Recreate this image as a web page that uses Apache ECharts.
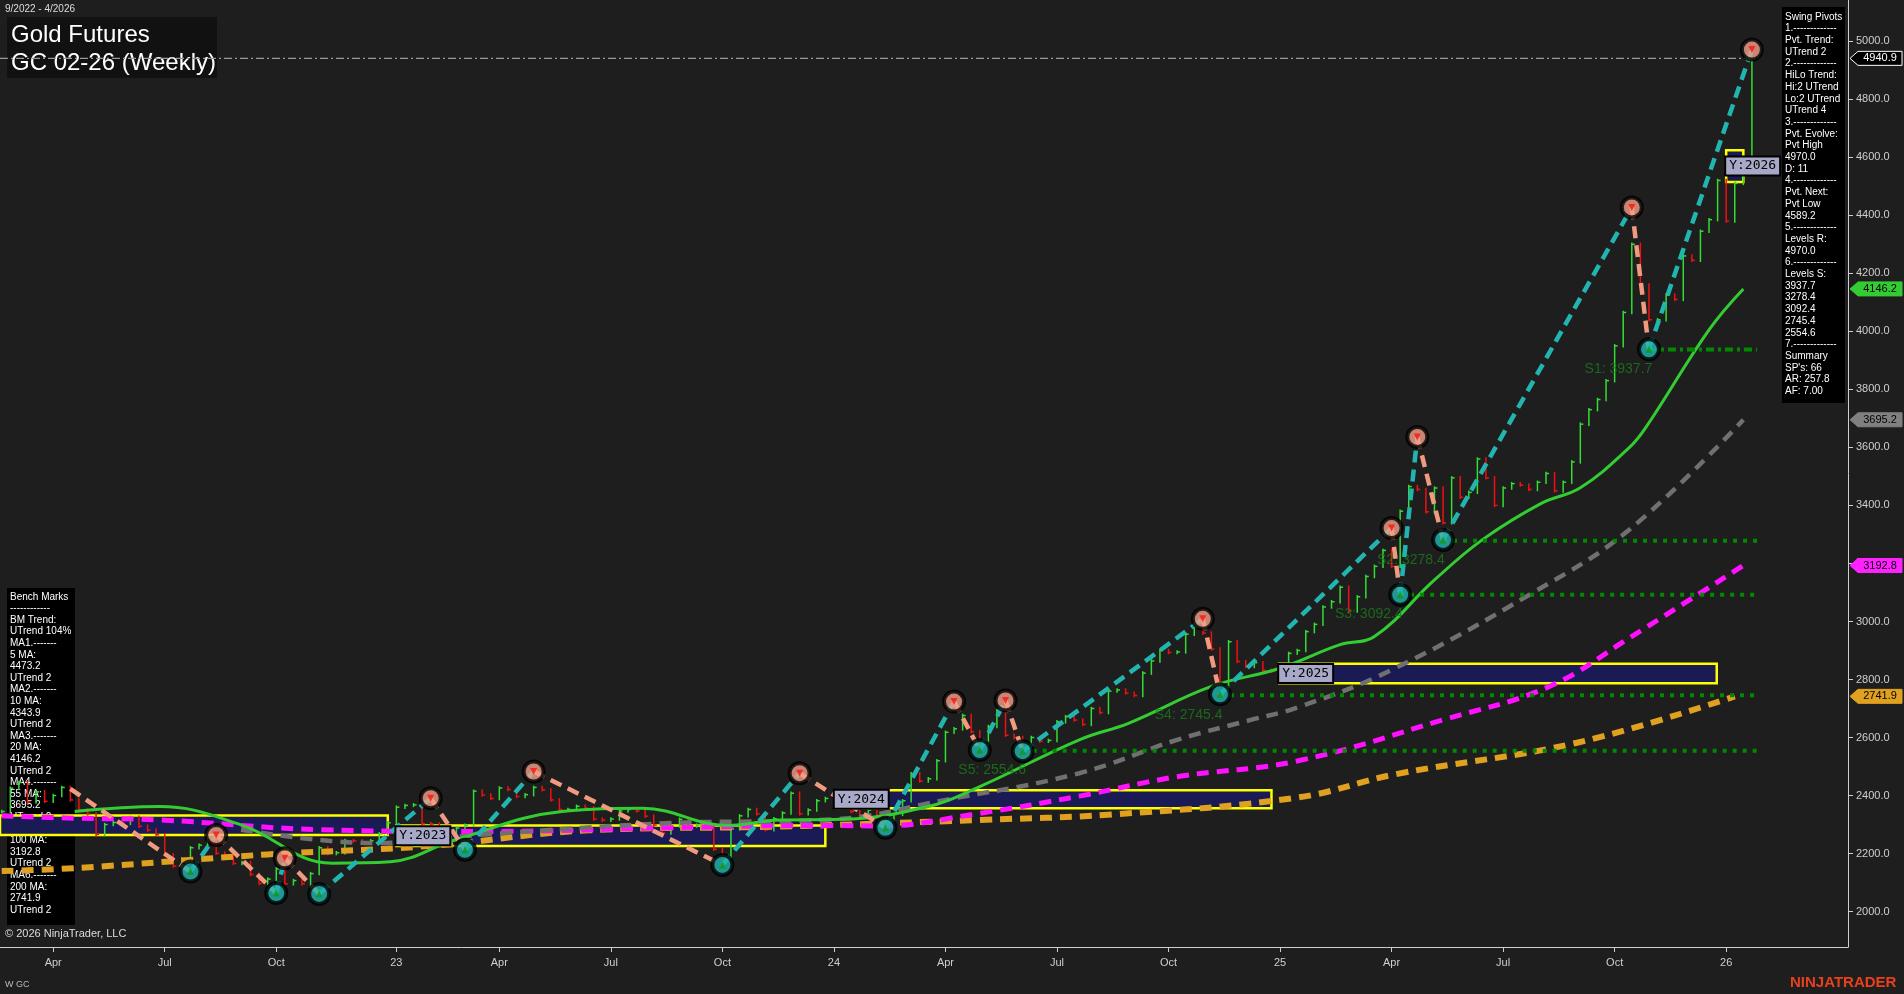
<!DOCTYPE html>
<html><head><meta charset="utf-8">
<script src="https://cdn.jsdelivr.net/npm/echarts@6/dist/echarts.min.js"></script>
<style>html,body{margin:0;padding:0;background:#1e1e1e}#c{width:1904px;height:994px}</style>
</head><body><div id="c"></div>
<script>
// weekly closes, index -6 .. 198 (index 0 = first week of Apr 2022)
const firstIdx = -6;
const closes = [2345,2425,2445,2378,2413,2380,
2400,2428,2385,2350,2337,2266,2300,2307,2304,2325,
2294,2281,2265,2196,2157,2181,2220,2229,2256,2201,
2191,2166,2169,2128,2097,2112,2147,2096,2107,2096,
2131,2220,2200,2203,2245,2244,2240,2244,2268,2306,
2360,2366,2368,2303,2302,2277,2245,2288,2298,2415,
2402,2390,2426,2421,2397,2403,2428,2420,2385,2352,
2352,2363,2357,2319,2315,2319,2347,2352,2347,2329,
2298,2271,2295,2318,2295,2298,2297,2215,2190,2285,
2330,2352,2337,2282,2320,2340,2408,2337,2350,2382,
2390,2370,2368,2345,2332,2350,2332,2315,2335,2382,
2475,2450,2458,2520,2618,2630,2676,2620,2580,2638,
2692,2608,2600,2563,2600,2587,2590,2654,2672,2660,
2645,2700,2686,2760,2764,2753,2745,2822,2864,2900,
2893,2895,2956,2980,2960,2905,2780,2930,2862,2845,
2858,2832,2828,2846,2890,2900,2965,2990,3050,3068,
3118,3036,3085,3155,3190,3245,3190,3380,3465,3455,
3378,3460,3340,3495,3428,3445,3560,3495,3400,3460,
3475,3470,3455,3480,3510,3450,3480,3550,3680,3730,
3765,3830,3950,4065,4300,4160,4040,4040,4125,4110,
4260,4245,4345,4385,4520,4380,4510,4600,4941];

// swing pivots [weekIndex, price]
const pivotIdx = [2,16,19,26,27,31,44,48,56,78,87,97,105,108,111,113,134,136,156,157,159,162,184,186,198];
const pivotVal = [2423,2138,2264,2064,2184,2061,2391,2213,2483,2161,2477,2289,2724,2557,2728,2553,3009,2749,3322,3092,3636,3281,4427,3938,4971];

// moving averages knots [weekIndex, value]
const ma20 = [[2.5,2345],[12.4,2362],[21.9,2299],[32.5,2167],[39.3,2172],[46.8,2247],[59.3,2345],[68.7,2356],[78.6,2297],[84.7,2316],[91.7,2318],[102,2362],[108,2431],[119.6,2592],[125.4,2650],[135,2776],[142.9,2838],[150,2920],[154,2948],[161,3143],[166.6,3282],[173.5,3408],[178,3461],[183.7,3599],[185.6,3667],[193,4005],[197,4146]];
const ma55 = [[21.9,2282],[37.5,2236],[49.9,2265],[71.9,2305],[91,2318],[104,2385],[119.6,2477],[131,2592],[139.5,2660],[145,2703],[156,2833],[172.4,3098],[183.7,3316],[197,3695]];
const ma100 = [[-6,2330],[2.5,2322],[12.4,2316],[31.3,2282],[49.9,2276],[71.9,2289],[91,2297],[96.3,2295],[108,2339],[119.6,2398],[131,2465],[145,2519],[162,2661],[174.4,2776],[183.7,2943],[197,3193]];
const ma200 = [[-6,2140],[3.1,2151],[25,2197],[43.7,2226],[62.4,2280],[84.6,2293],[108,2316],[123.5,2335],[145,2393],[156.4,2473],[177.6,2582],[196,2742]];

// support levels
const supNames = ['S5: 2554.6','S4: 2745.4','S3: 3092.4','S2: 3278.4','S1: 3937.7'];
const supVal = [2554.6,2745.4,3092.4,3278.4,3937.7];
const supStart = [113,136,157,162,186];
const supLabelPos = [[105.5,2486],[128.4,2676],[149.4,3025],[154.3,3210],[178.5,3871]];

// yearly range boxes [x0,x1,low,high,label]
const boxes = [[-6.2,39,2264,2331,''],[40,90,2226,2297,'Y:2023'],[91.1,142,2356,2418,'Y:2024'],[142.9,193.9,2787,2854,'Y:2025'],[195,197,4515,4624,'Y:2026']];

const xTickIdx = [0,13,26,40,52,65,78,91,104,117,130,143,156,169,182,195];
const xTickLab = ['Apr','Jul','Oct','23','Apr','Jul','Oct','24','Apr','Jul','Oct','25','Apr','Jul','Oct','26'];
const yTicks = [2000,2200,2400,2600,2800,3000,3200,3400,3600,3800,4000,4200,4400,4600,4800,5000];
const lastPrice = 4940.9;
const badges = [[4940.9,'#000','#fff','#fff'],[4146.2,'#33cc33','#000','#33cc33'],[3695.2,'#808080','#000','#808080'],[3192.8,'#ff22ff','#000','#ff22ff'],[2741.9,'#e0a020','#000','#e0a020']];

const swingText = ['Swing Pivots','1.-------------','Pvt. Trend:','UTrend 2','2.-------------','HiLo Trend:','Hi:2 UTrend','Lo:2 UTrend','UTrend 4','3.-------------','Pvt. Evolve:','Pvt High','4970.0','D: 11','4.-------------','Pvt. Next:','Pvt Low','4589.2','5.-------------','Levels R:','4970.0','6.-------------','Levels S:','3937.7','3278.4','3092.4','2745.4','2554.6','7.-------------','Summary',"SP's: 66",'AR: 257.8','AF: 7.00'];
const benchText = ['Bench Marks','------------','BM Trend:','UTrend 104%','MA1.-------','5 MA:','4473.2','UTrend 2','MA2.-------','10 MA:','4343.9','UTrend 2','MA3.-------','20 MA:','4146.2','UTrend 2','MA4.-------','55 MA:','3695.2','UTrend 2','MA5.-------','100 MA:','3192.8','UTrend 2','MA6.-------','200 MA:','2741.9','UTrend 2'];

const barData = closes.map((c,i)=>[firstIdx+i, i>0?closes[i-1]:c, c]);
const chart = echarts.init(document.getElementById('c'));
const series = [];

series.push({type:'custom',z:1,data:boxes.map(b=>b.slice(0,4)),renderItem:(p,api)=>{
  const a=api.coord([api.value(0),api.value(3)]), b=api.coord([api.value(1),api.value(2)]);
  return {type:'rect',shape:{x:a[0],y:a[1],width:b[0]-a[0],height:b[1]-a[1]},style:{fill:'#1a1a55',stroke:'#ffff00',lineWidth:2.5}};
}});
series.push({type:'custom',z:2,data:barData,renderItem:(p,api)=>{
  const x=api.value(0),o=api.value(1),c=api.value(2);
  const lo=Math.min(o,c)-6, hi=Math.max(o,c)+6;
  const a=api.coord([x,hi]), b=api.coord([x,lo]), cc=api.coord([x,c]);
  const col=c>=o?'#33dd33':'#ee1111';
  return {type:'group',children:[
    {type:'line',shape:{x1:a[0],y1:a[1],x2:b[0],y2:b[1]},style:{stroke:col,lineWidth:1.5}},
    {type:'line',shape:{x1:cc[0],y1:cc[1],x2:cc[0]+3,y2:cc[1]},style:{stroke:col,lineWidth:1.5}}]};
}});
const maDefs=[[ma200,'#e0a020',6],[ma100,'#ff11ff',5],[ma55,'#707070',4.5],[ma20,'#33cc33',3]];
maDefs.forEach(([d,col,w],k)=>series.push({type:'line',z:3,data:d,smooth:0.4,symbol:'none',silent:true,
  lineStyle:{color:col,width:w,type:k===3?'solid':[12,8]}}));
supVal.forEach((v,i)=>series.push({type:'line',z:4,symbol:'none',data:[[supStart[i],v],[198.6,v]],
  lineStyle:{color:'#008a00',width:4,type:i===4?[8,4,3,4]:[4,6]}}));
series.push({type:'line',z:4,symbol:'none',data:[[-6.2,lastPrice],[198,lastPrice]],lineStyle:{color:'#999',width:1.2,type:[8,3,2,3]}});
series.push({type:'scatter',z:4,symbolSize:0,data:supLabelPos.map((p,i)=>({value:p,label:{show:true,formatter:supNames[i],position:'right',distance:0,color:'#1b7a1b',fontSize:14,fontFamily:'Liberation Sans'}}))});
for(let i=0;i<pivotIdx.length-1;i++){
  const up=pivotVal[i+1]>pivotVal[i];
  series.push({type:'line',z:5,symbol:'none',data:[[pivotIdx[i],pivotVal[i]],[pivotIdx[i+1],pivotVal[i+1]]],
    lineStyle:{color:up?'#22b5b0':'#f09a80',width:4.5,type:[12,7]}});
}
const pts=pivotIdx.slice(1).map((x,i)=>{const k=i+1;const high=pivotVal[k]>pivotVal[k-1];return {value:[x,pivotVal[k]],itemStyle:{color:high?'#f0a088':'#22b5b0'},high};});
series.push({type:'scatter',z:6,symbolSize:20,data:pts.map(p=>({value:p.value,itemStyle:{color:p.itemStyle.color,borderColor:'#000',borderWidth:4}}))});
series.push({type:'scatter',z:7,symbol:'triangle',symbolSize:7,data:pts.map(p=>({value:p.value,symbolRotate:p.high?180:0,itemStyle:{color:p.high?'#ff1111':'#119911'}}))});
series.push({type:'custom',z:8,data:boxes.filter(b=>b[4]),renderItem:(p,api)=>{
  const b=boxes.filter(b=>b[4])[p.dataIndex];const a=api.coord([b[0],(b[2]+b[3])/2]);
  return {type:'text',x:a[0],y:a[1],style:{text:b[4],fill:'#000',font:'13px "DejaVu Sans Mono"',backgroundColor:'#a8a8c8',borderColor:'#000',borderWidth:2,padding:[2,3],verticalAlign:'middle',align:'left'}};
}});

chart.setOption({
  backgroundColor:'#1e1e1e',animation:false,
  grid:{left:0,right:56,top:0,bottom:47},
  xAxis:{type:'value',min:-6.2,max:209.2,splitLine:{show:false},
    axisLine:{onZero:false,lineStyle:{color:'#cfcfcf'}},axisTick:{customValues:xTickIdx,lineStyle:{color:'#cfcfcf'}},
    axisLabel:{customValues:xTickIdx,formatter:v=>xTickLab[xTickIdx.indexOf(Math.round(v))],color:'#cfcfcf',fontSize:11,margin:10,fontFamily:'Liberation Sans'}},
  yAxis:{type:'value',position:'right',min:1878,max:5142,splitLine:{show:false},
    axisLine:{show:true,onZero:false,lineStyle:{color:'#cfcfcf'}},axisTick:{show:true,customValues:yTicks,lineStyle:{color:'#cfcfcf'}},
    axisLabel:{customValues:yTicks,formatter:v=>v.toFixed(1),color:'#cfcfcf',fontSize:11,fontFamily:'Liberation Sans'}},
  series
});

const g=[];
g.push({type:'text',left:5,top:4,style:{text:'9/2022 - 4/2026',fill:'#ddd',font:'10px "Liberation Sans"'}});
g.push({type:'rect',shape:{x:7,y:17,width:210,height:61},style:{fill:'#111'}});
g.push({type:'text',x:11,y:21,style:{text:'Gold Futures\nGC 02-26 (Weekly)',fill:'#fff',font:'24px "Liberation Sans"',lineHeight:28}});
g.push({type:'rect',shape:{x:1782,y:7,width:63,height:396},style:{fill:'#000'}});
g.push({type:'text',x:1785,y:11,style:{text:swingText.join('\n'),fill:'#fff',font:'10px "Liberation Sans"',lineHeight:11.7}});
g.push({type:'rect',shape:{x:7,y:588,width:68,height:337},style:{fill:'#000'}});
g.push({type:'text',x:10,y:591,style:{text:benchText.join('\n'),fill:'#fff',font:'10px "Liberation Sans"',lineHeight:11.6}});
g.push({type:'text',x:5,y:928,style:{text:'© 2026 NinjaTrader, LLC',fill:'#ddd',font:'11px "Liberation Sans"'}});
g.push({type:'text',x:5,y:980,style:{text:'W GC',fill:'#bbb',font:'9px "Liberation Sans"'}});
g.push({type:'text',x:1790,y:975,style:{text:'NINJATRADER',fill:'#e8401c',font:'bold 15px "Liberation Sans"'}});
badges.forEach(([v,bg,fg,bd])=>{
  const y=chart.convertToPixel({yAxisIndex:0},v);
  g.push({type:'polygon',shape:{points:[[1850,y],[1858,y-7],[1902,y-7],[1902,y+7],[1858,y+7]]},style:{fill:bg,stroke:bd,lineWidth:1},z:10});
  g.push({type:'text',x:1880,y:y,z:11,style:{text:v.toFixed(1),fill:fg,font:'11px "Liberation Sans"',align:'center',verticalAlign:'middle'}});
});
chart.setOption({graphic:g});
</script></body></html>
